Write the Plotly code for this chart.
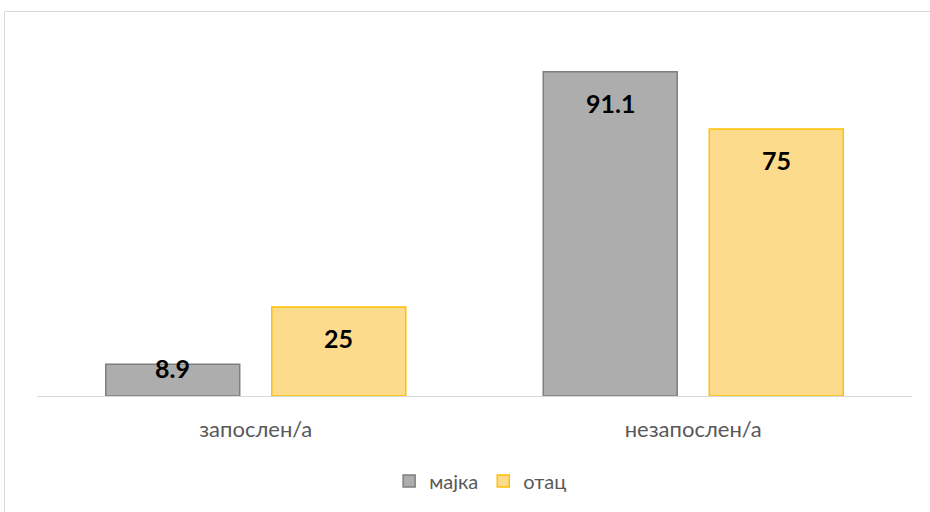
import plotly.graph_objects as go

categories = ["запослен/а", "незапослен/а"]
series_names = ["мајка", "отац"]
majka = [8.9, 91.1]
otac = [25, 75]

W, H = 930, 512
ML, MR, MT, MB = 37, 18, 40, 116
Y_MAX = 100
BARGAP, BARGROUPGAP = 0.241, 0.193
plot_w = W - ML - MR
plot_h = H - MT - MB
px_per_unit = plot_h / Y_MAX
slot_px = plot_w / len(categories) * (1 - BARGAP) / 2

FONT = "Lato, 'Open Sans', sans-serif"

fig = go.Figure()
fig.add_trace(go.Bar(
    name=series_names[0], x=categories, y=majka,
    marker=dict(color="#adadad", line=dict(color="#7f7f7f", width=1.5)),
))
fig.add_trace(go.Bar(
    name=series_names[1], x=categories, y=otac,
    marker=dict(color="#fddb8c", line=dict(color="#ffc000", width=1.5)),
))

# value labels, "inside end" style
annotations = []
for tr_idx, vals in enumerate([majka, otac]):
    for cat, v in zip(categories, vals):
        bar_px = v * px_per_unit
        off = min(31, bar_px - 28)
        annotations.append(dict(
            x=cat, y=v, xref="x", yref="y", text=f"<b>{v:g}</b>",
            showarrow=False, yshift=-off,
            xshift=(-1 if tr_idx == 0 else 1) * slot_px / 2,
            font=dict(family=FONT, size=25, color="#000000"),
            yanchor="middle", xanchor="center",
        ))

fig.update_layout(
    width=W, height=H,
    margin=dict(l=ML, r=MR, t=MT, b=MB),
    paper_bgcolor="white", plot_bgcolor="white",
    barmode="group", bargap=BARGAP, bargroupgap=BARGROUPGAP,
    showlegend=True,
    legend=dict(orientation="h", x=0.507, xanchor="center", y=-0.239, yanchor="middle",
                font=dict(family=FONT, size=20, color="#595959"),
                itemclick=False, traceorder="normal", itemwidth=30),
    xaxis=dict(showline=True, linecolor="#d9d9d9", linewidth=1, ticks="",
               tickfont=dict(family=FONT, size=22, color="#595959"),
               ticklabelstandoff=14, showgrid=False),
    yaxis=dict(range=[0, Y_MAX], showgrid=False, showticklabels=False, zeroline=False,
               showline=False),
    annotations=annotations,
    font=dict(family=FONT),
)

# chart area border
fig.add_shape(type="rect", xref="paper", yref="paper",
              x0=(4.5 - ML) / plot_w, x1=(W + 5 - ML) / plot_w,
              y0=-(H + 5 - MT - plot_h) / plot_h, y1=1 + (MT - 11.5) / plot_h,
              line=dict(color="#d9d9d9", width=1), fillcolor="rgba(0,0,0,0)", layer="below")

fig.write_html("out.html", config={"displayModeBar": False},
               post_script="document.body.style.margin='0';")
